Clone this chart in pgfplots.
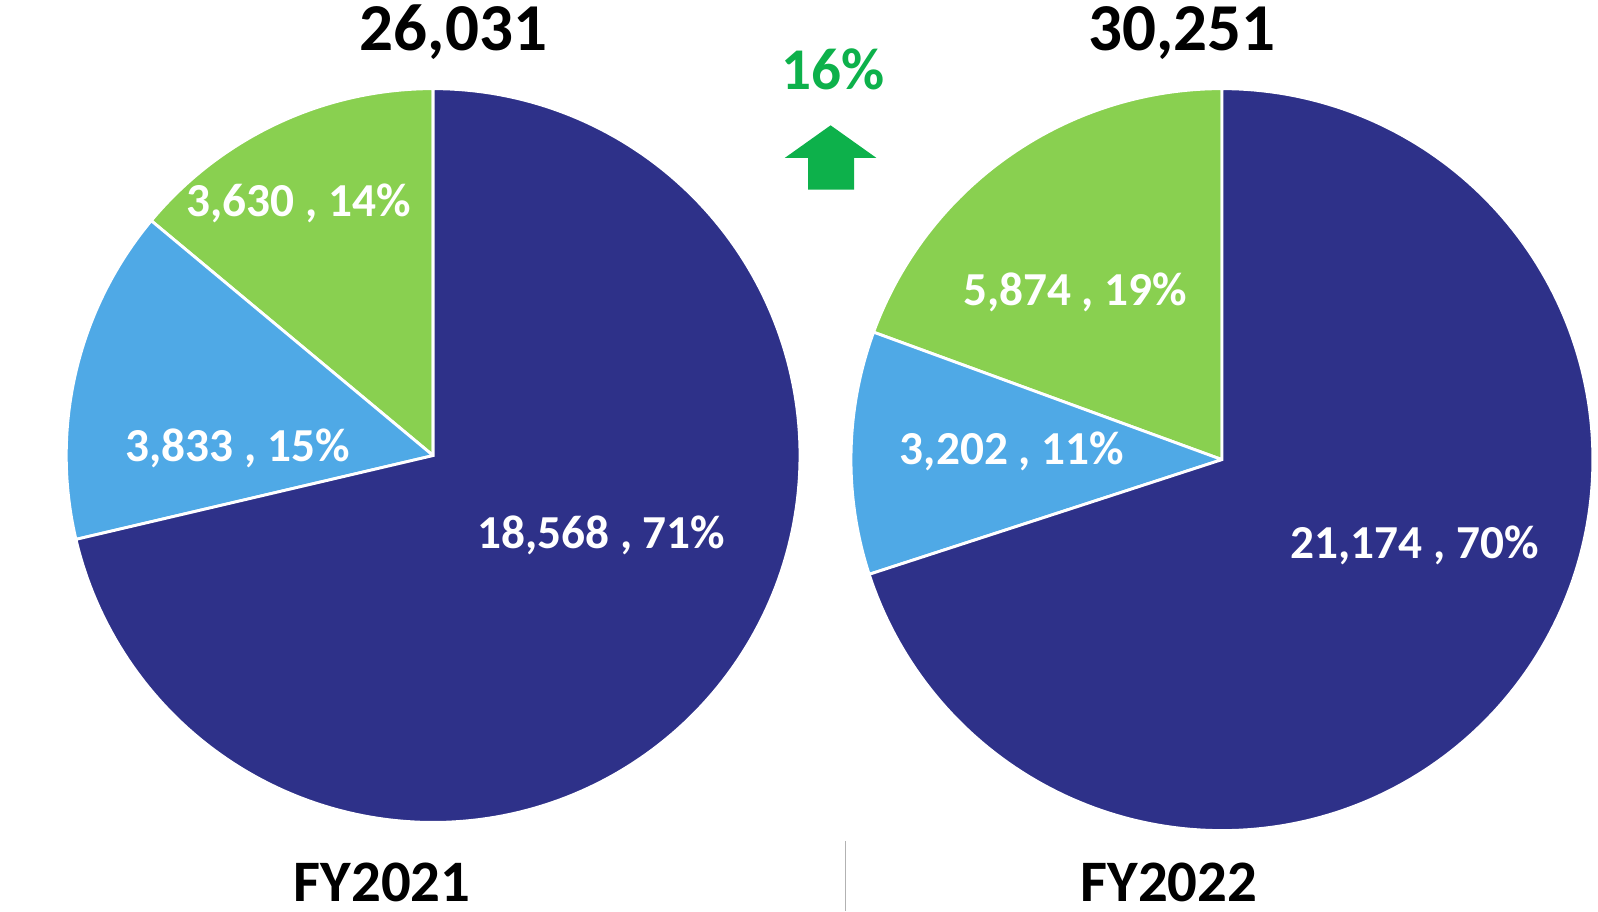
\documentclass[border=0pt]{standalone}
\usepackage{pgfplots}
\pgfplotsset{compat=1.18}
\usepackage{xfp}
\usepackage{fontspec}
\setmainfont{Carlito}
\definecolor{navy}{RGB}{46,49,137}
\definecolor{sky}{RGB}{79,169,230}
\definecolor{lgreen}{RGB}{137,208,80}
\definecolor{upgreen}{RGB}{13,177,75}
% FY2021 values
\def\aG{3630}\def\aB{3833}\def\aN{18568}
% FY2022 values
\def\bG{5874}\def\bB{3202}\def\bN{21174}
\edef\aone{\fpeval{round(90+360*\aG/(\aG+\aB+\aN),3)}}
\edef\atwo{\fpeval{round(90+360*(\aG+\aB)/(\aG+\aB+\aN),3)}}
\edef\bone{\fpeval{round(90+360*\bG/(\bG+\bB+\bN),3)}}
\edef\btwo{\fpeval{round(90+360*(\bG+\bB)/(\bG+\bB+\bN),3)}}
\begin{document}
\begin{tikzpicture}
\begin{axis}[
  x=0.01cm, y=0.01cm,
  xmin=0, xmax=1568, ymin=0, ymax=894,
  hide axis, clip=false,
]
\coordinate (LL) at (axis cs:0,0);
\coordinate (UR) at (axis cs:1568,894);
% left pie (FY2021), centre (425,447), r=360
\addplot[fill=lgreen, draw=white, line width=0.8pt, domain=90:\aone, samples=80, variable=\t]
  ({425+360*cos(\t)},{447+360*sin(\t)}) -- (axis cs:425,447) -- cycle;
\addplot[fill=sky, draw=white, line width=0.8pt, domain=\aone:\atwo, samples=80, variable=\t]
  ({425+360*cos(\t)},{447+360*sin(\t)}) -- (axis cs:425,447) -- cycle;
\addplot[fill=navy, draw=white, line width=0.8pt, domain=\atwo:450, samples=200, variable=\t]
  ({425+360*cos(\t)},{447+360*sin(\t)}) -- (axis cs:425,447) -- cycle;
% right pie (FY2022), centre (1199,443), r=364
\addplot[fill=lgreen, draw=white, line width=0.8pt, domain=90:\bone, samples=80, variable=\t]
  ({1199+364*cos(\t)},{443+364*sin(\t)}) -- (axis cs:1199,443) -- cycle;
\addplot[fill=sky, draw=white, line width=0.8pt, domain=\bone:\btwo, samples=80, variable=\t]
  ({1199+364*cos(\t)},{443+364*sin(\t)}) -- (axis cs:1199,443) -- cycle;
\addplot[fill=navy, draw=white, line width=0.8pt, domain=\btwo:450, samples=200, variable=\t]
  ({1199+364*cos(\t)},{443+364*sin(\t)}) -- (axis cs:1199,443) -- cycle;
% slice labels
\node[white, font=\fontsize{13.2}{15}\selectfont\bfseries] at (axis cs:293,694) {3,630 , 14\%};
\node[white, font=\fontsize{13.2}{15}\selectfont\bfseries] at (axis cs:233,454) {3,833 , 15\%};
\node[white, font=\fontsize{13.2}{15}\selectfont\bfseries] at (axis cs:590,369) {18,568 , 71\%};
\node[white, font=\fontsize{13.2}{15}\selectfont\bfseries] at (axis cs:1055,607) {5,874 , 19\%};
\node[white, font=\fontsize{13.2}{15}\selectfont\bfseries] at (axis cs:993,451) {3,202 , 11\%};
\node[white, font=\fontsize{13.2}{15}\selectfont\bfseries] at (axis cs:1388,359) {21,174 , 70\%};
% totals
\node[black, font=\fontsize{18.7}{21}\selectfont\bfseries] at (axis cs:445,862) {26,031};
\node[black, font=\fontsize{18.7}{21}\selectfont\bfseries] at (axis cs:1160,862) {30,251};
\node[upgreen, font=\fontsize{16.5}{19}\selectfont\bfseries] at (axis cs:817,826) {16\%};
\fill[upgreen] (axis cs:815,771) -- (axis cs:860,739) -- (axis cs:838,739) -- (axis cs:838,708)
  -- (axis cs:793,708) -- (axis cs:793,739) -- (axis cs:770,739) -- cycle;
% year labels
\node[black, font=\fontsize{16.4}{19}\selectfont\bfseries] at (axis cs:375,28) {FY2021};
\node[black, font=\fontsize{16.4}{19}\selectfont\bfseries] at (axis cs:1147,28) {FY2022};
\draw[gray!60, line width=0.4pt] (axis cs:829.5,69) -- (axis cs:829.5,0);
\end{axis}
\pgfresetboundingbox
\path[use as bounding box] (LL) rectangle (UR);
\end{tikzpicture}
\end{document}
